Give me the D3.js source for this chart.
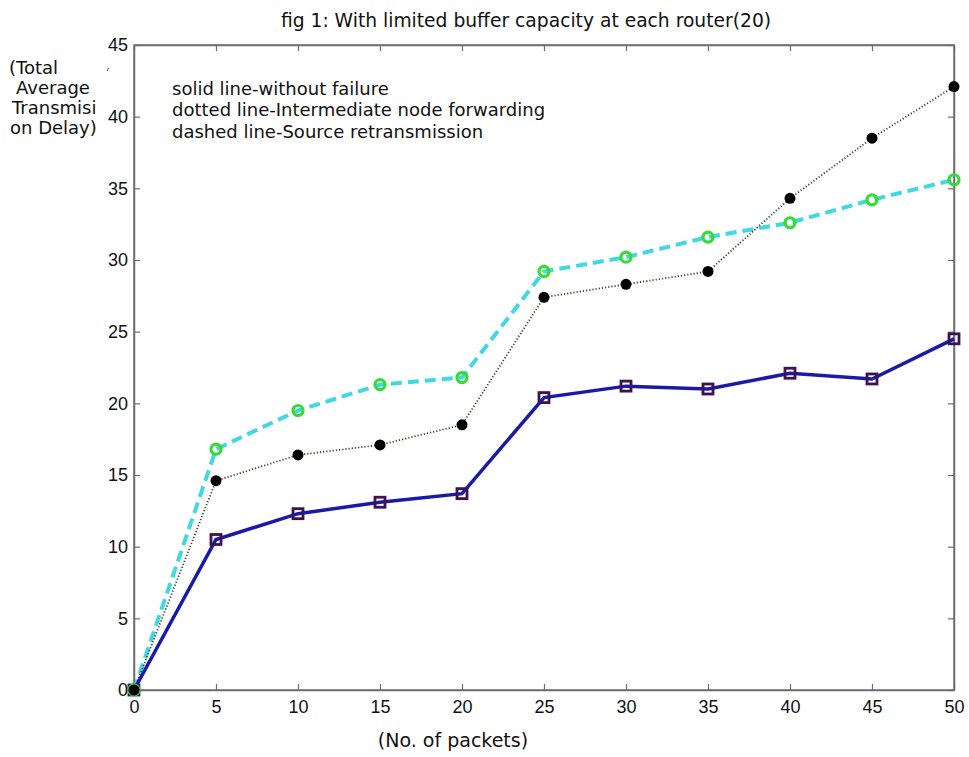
<!DOCTYPE html>
<html><head><meta charset="utf-8">
<script src="https://cdn.jsdelivr.net/npm/d3@7"></script>
<style>body{margin:0;background:#fff}svg{display:block}</style>
</head><body>
<svg id="c" width="969" height="757"></svg>
<script>
const packets = [0,5,10,15,20,25,30,35,40,45,50];
const withoutFailure = [0,10.5,12.3,13.1,13.7,20.4,21.2,21.0,22.1,21.7,24.5];
const intermediateForwarding = [0,14.6,16.4,17.1,18.5,27.4,28.3,29.2,34.3,38.5,42.1];
const sourceRetransmission = [0,16.8,19.5,21.3,21.8,29.2,30.2,31.6,32.6,34.2,35.6];
const xTicks = [0,5,10,15,20,25,30,35,40,45,50];
const yTicks = [0,5,10,15,20,25,30,35,40,45];
const title = "fig 1: With limited buffer capacity at each router(20)";
const legendLines = ["solid line-without failure","dotted line-Intermediate node forwarding","dashed line-Source retransmission"];
const yLabelLines = ["(Total","Average","Transmisi","on Delay)"];
const xLabel = "(No. of packets)";

const svg = d3.select("#c");
const L=134, R=954, T=45, B=690;
const x = d3.scaleLinear().domain([0,50]).range([L,R]);
const y = d3.scaleLinear().domain([0,45]).range([B,T]);
const axisColor="#6e6e6e";

// frame
svg.append("rect").attr("x",L).attr("y",T).attr("width",R-L).attr("height",B-T)
  .attr("fill","none").attr("stroke",axisColor).attr("stroke-width",1.5);

// axes with inward ticks
const fontTick = "'Liberation Sans', Arial, sans-serif";
svg.append("g").attr("transform",`translate(0,${B})`)
  .call(d3.axisBottom(x).tickValues(xTicks).tickSizeInner(-6).tickSizeOuter(0).tickPadding(10));
svg.append("g").attr("transform",`translate(${L},0)`)
  .call(d3.axisLeft(y).tickValues(yTicks).tickSizeInner(-6).tickSizeOuter(0).tickPadding(6));
svg.append("g").attr("transform",`translate(${R},0)`)
  .call(d3.axisRight(y).tickValues(yTicks).tickSizeInner(-6).tickSizeOuter(0).tickFormat(""));
svg.append("g").attr("transform",`translate(0,${T})`)
  .call(d3.axisTop(x).tickValues(xTicks).tickSizeInner(-6).tickSizeOuter(0).tickFormat(""));
svg.selectAll(".domain").attr("stroke",axisColor).attr("stroke-width",1.5);
svg.selectAll(".tick line").attr("stroke",axisColor).attr("stroke-width",1.2);
svg.selectAll(".tick text").attr("font-family",fontTick).attr("font-size",18).attr("fill","#111");

const line = d3.line().x((d,i)=>x(packets[i])).y(d=>y(d));

// dashed cyan
svg.append("path").datum(sourceRetransmission).attr("d",line)
  .attr("fill","none").attr("stroke","#3fd9e3").attr("stroke-width",4).attr("stroke-dasharray","11,6");
// dotted
svg.append("path").datum(intermediateForwarding).attr("d",line)
  .attr("fill","none").attr("stroke","#2a4a2a").attr("stroke-width",1.8).attr("stroke-dasharray","1.2,2");
// solid
svg.append("path").datum(withoutFailure).attr("d",line)
  .attr("fill","none").attr("stroke","#1a1aaa").attr("stroke-width",3.5);

// markers
svg.append("g").selectAll("rect").data(withoutFailure).join("rect")
  .attr("x",(d,i)=>x(packets[i])-5).attr("y",d=>y(d)-5).attr("width",10).attr("height",10)
  .attr("fill","none").attr("stroke","#3a1350").attr("stroke-width",2.8);
svg.append("g").selectAll("circle").data(sourceRetransmission).join("circle")
  .attr("cx",(d,i)=>x(packets[i])).attr("cy",d=>y(d)).attr("r",5)
  .attr("fill","none").attr("stroke","#35dc35").attr("stroke-width",3.2);
svg.append("g").selectAll("circle").data(intermediateForwarding).join("circle")
  .attr("cx",(d,i)=>x(packets[i])).attr("cy",d=>y(d)).attr("r",5.5)
  .attr("fill","#000");

const fontMain = "'DejaVu Sans', Verdana, sans-serif";
svg.append("text").attr("x",526).attr("y",27).attr("text-anchor","middle")
  .attr("font-family",fontMain).attr("font-size",18.7).attr("fill","#111").text(title);

svg.append("g").selectAll("text").data(legendLines).join("text")
  .attr("x",172).attr("y",(d,i)=>94.5+i*21.5).attr("font-family",fontMain).attr("font-size",18).attr("fill","#111").text(d=>d);

svg.append("g").selectAll("text").data(yLabelLines).join("text")
  .attr("x",(d,i)=>[9,16,12,10][i]).attr("y",(d,i)=>73.5+i*20).attr("font-family",fontMain).attr("font-size",18)
  .attr("fill","#111").text(d=>d);
svg.append("text").attr("x",106).attr("y",70).attr("font-family",fontMain).attr("font-size",12).attr("fill","#666").text(",");

svg.append("text").attr("x",453).attr("y",747).attr("text-anchor","middle")
  .attr("font-family",fontMain).attr("font-size",19).attr("fill","#111").text(xLabel);
</script>
</body></html>
